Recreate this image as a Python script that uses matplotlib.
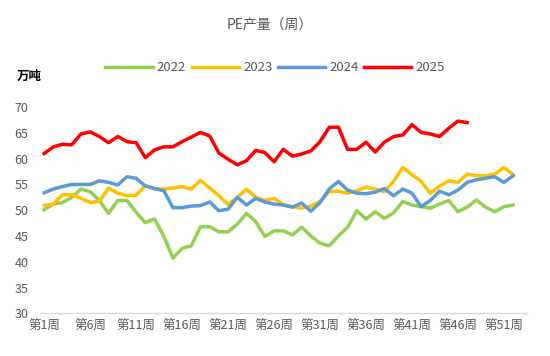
import matplotlib
matplotlib.use("Agg")
import matplotlib.pyplot as plt
import numpy as np

plt.rcParams['font.family'] = ['Noto Sans CJK SC', 'DejaVu Sans']

# PE weekly output, 10k tonnes
y2022 = [50.1, 51.2, 51.5, 52.5, 54.1, 53.6, 51.9, 49.4, 51.9, 51.9,
         49.6, 47.6, 48.3, 45.0, 40.7, 42.6, 43.1, 46.8, 46.8, 45.8,
         45.8, 47.3, 49.4, 47.8, 44.9, 46.0, 46.0, 45.2, 46.7, 45.0,
         43.6, 43.1, 45.0, 46.7, 49.9, 48.3, 49.7, 48.4, 49.5, 51.7,
         51.0, 50.7, 50.4, 51.2, 51.9, 49.7, 50.6, 52.0, 50.6, 49.7,
         50.7, 51.0]
y2023 = [50.9, 51.2, 53.0, 53.0, 52.3, 51.5, 51.7, 54.3, 53.3, 52.8,
         52.9, 54.8, 54.1, 54.1, 54.3, 54.6, 54.1, 55.8, 54.3, 52.8,
         51.1, 52.5, 54.1, 52.5, 51.9, 52.3, 51.1, 50.7, 50.4, 50.8,
         51.7, 53.6, 53.7, 53.3, 53.8, 54.5, 54.1, 53.6, 55.6, 58.3,
         56.9, 55.6, 53.3, 54.7, 55.7, 55.4, 57.0, 56.7, 56.7, 57.0,
         58.3, 56.9]
y2024 = [53.4, 54.1, 54.6, 55.0, 55.0, 55.0, 55.7, 55.4, 54.9, 56.5,
         56.2, 54.7, 54.2, 53.8, 50.5, 50.5, 50.8, 50.9, 51.6, 49.9,
         50.2, 52.5, 51.0, 52.3, 51.6, 51.2, 51.0, 50.6, 51.4, 49.8,
         51.5, 54.1, 55.6, 53.9, 53.3, 53.2, 53.5, 54.2, 52.8, 54.1,
         53.3, 50.7, 51.9, 53.7, 53.0, 53.9, 55.4, 55.9, 56.2, 56.5,
         55.4, 56.7]
y2025 = [61.0, 62.3, 62.8, 62.7, 64.8, 65.2, 64.3, 63.1, 64.3, 63.3,
         63.1, 60.2, 61.7, 62.3, 62.3, 63.3, 64.2, 65.1, 64.4, 61.1,
         59.9, 58.8, 59.6, 61.6, 61.2, 59.4, 61.8, 60.5, 60.9, 61.5,
         63.3, 66.1, 66.1, 61.8, 61.8, 63.2, 61.3, 63.2, 64.3, 64.6,
         66.6, 65.1, 64.8, 64.3, 65.9, 67.3, 67.0]

n_weeks = 53
tick_weeks = list(range(1, 52, 5))
tick_labels = ['第%d周' % w for w in tick_weeks]

series = [('2022', y2022, '#92D050'),
          ('2023', y2023, '#FFC000'),
          ('2024', y2024, '#5B9BD5'),
          ('2025', y2025, '#FF0000')]

fig = plt.figure(figsize=(5.5, 3.56), dpi=100)
ax = fig.add_axes([0.072, 0.12, 0.886, 0.579])

for name, vals, c in series:
    x = np.arange(1, len(vals) + 1)
    ax.plot(x, vals, color=c, lw=2.5, label=name, solid_joinstyle='round')

ax.set_xlim(0.5, n_weeks + 0.5)
ax.set_ylim(30, 70)
ax.set_yticks(range(30, 71, 5))
ax.set_xticks(tick_weeks)
ax.set_xticklabels(tick_labels, fontsize=9, color='#595959')
ax.tick_params(axis='y', labelsize=9, labelcolor='#595959', length=0, pad=8)
ax.tick_params(axis='x', length=0, pad=5)
for s in ['top', 'right', 'left']:
    ax.spines[s].set_visible(False)
ax.spines['bottom'].set_color('#d9d9d9')
ax.spines['bottom'].set_linewidth(1)

fig.text(0.49, 0.928, 'PE产量（周）', ha='center', va='center',
         fontsize=10, color='#595959')
fig.text(0.03, 0.785, '万吨', ha='left', va='center', fontsize=9,
         fontweight='bold', color='black')

leg = fig.legend(loc='center', bbox_to_anchor=(0.5, 0.81), ncol=4,
                 frameon=False, fontsize=9.5, handlelength=3.6,
                 handletextpad=0.3, columnspacing=0.4)
for t in leg.get_texts():
    t.set_color('#595959')

fig.savefig('out.png', dpi=100)
